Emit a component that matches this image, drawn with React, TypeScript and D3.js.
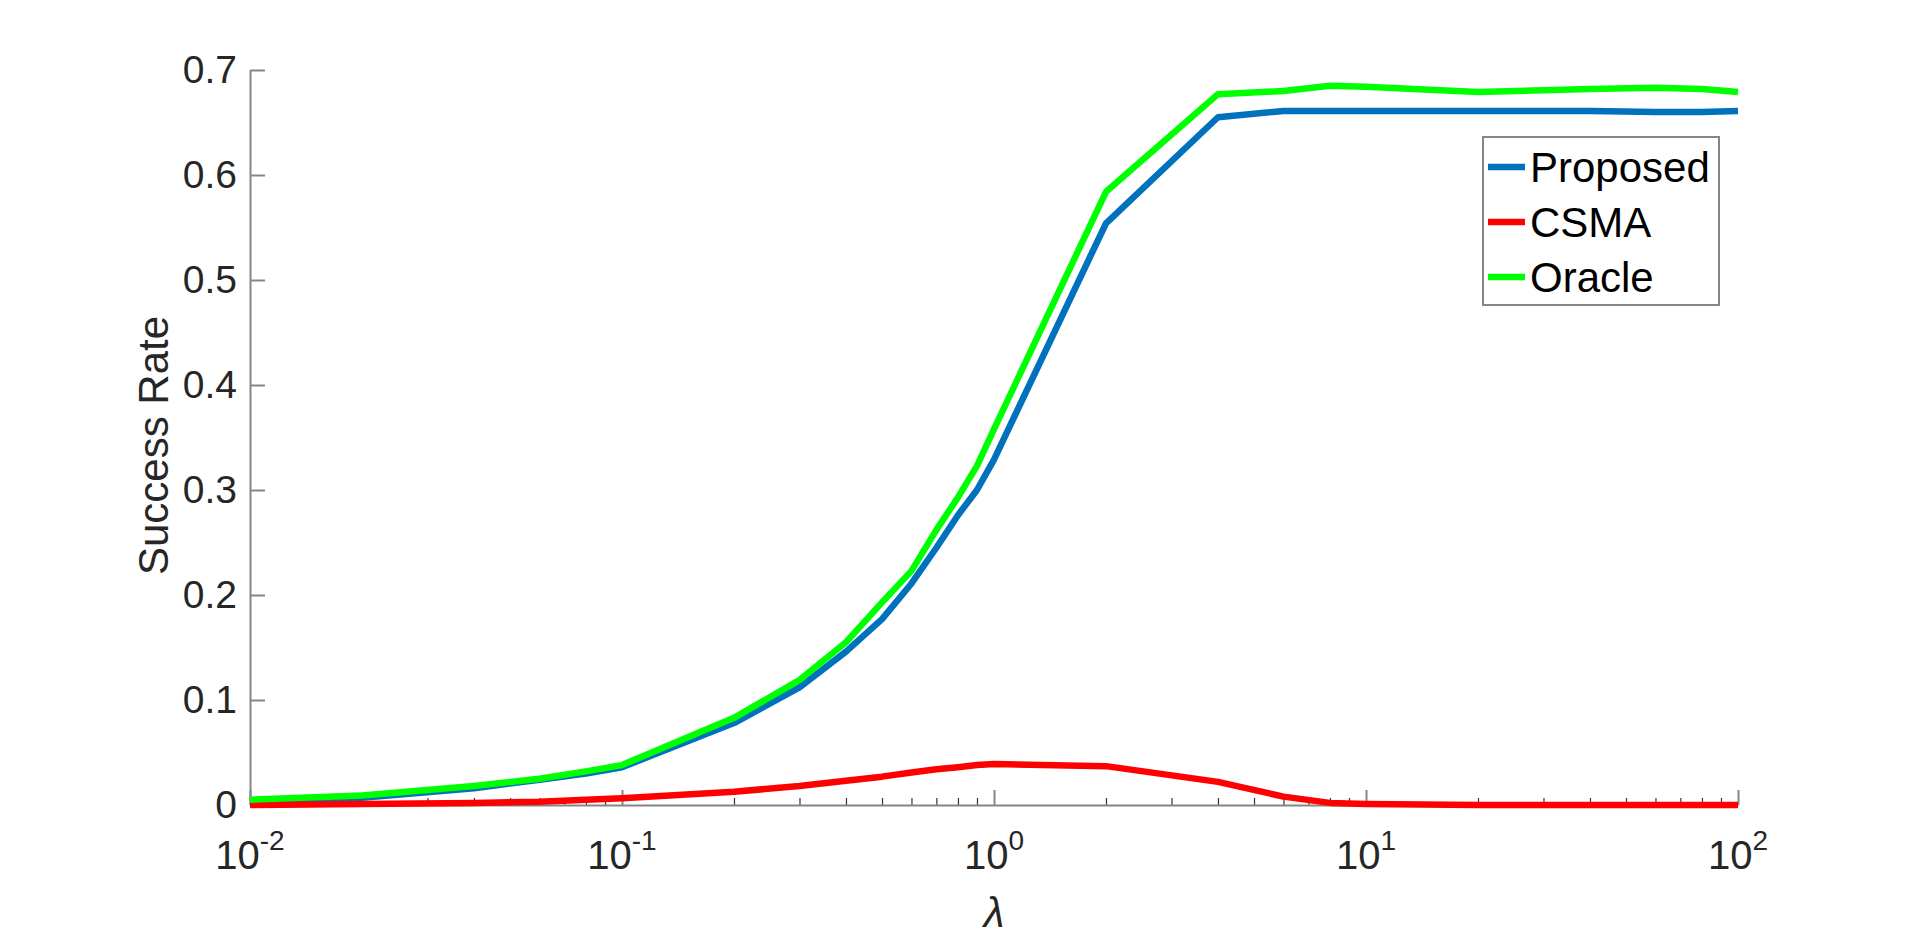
import React, { useEffect, useRef } from 'react'
import * as d3 from 'd3'

// lambda values (log axis)
const lambdas = [0.01, 0.02, 0.04, 0.06, 0.08, 0.1, 0.2, 0.3, 0.4, 0.5, 0.6, 0.7, 0.8, 0.9, 1, 2, 4, 6, 8, 10, 20, 40, 60, 80, 100]

const proposed = [0.003, 0.007, 0.016, 0.024, 0.030, 0.036, 0.078, 0.112, 0.146, 0.177, 0.211, 0.245, 0.276, 0.300, 0.329, 0.554, 0.655, 0.661, 0.661, 0.661, 0.661, 0.661, 0.660, 0.660, 0.661]
const csma = [0.000, 0.001, 0.002, 0.003, 0.005, 0.0065, 0.0127, 0.018, 0.023, 0.027, 0.031, 0.034, 0.036, 0.038, 0.039, 0.037, 0.022, 0.008, 0.002, 0.001, 0.000, 0.000, 0.000, 0.000, 0.000]
const oracle = [0.005, 0.009, 0.018, 0.025, 0.032, 0.038, 0.083, 0.119, 0.155, 0.193, 0.223, 0.262, 0.293, 0.323, 0.358, 0.584, 0.677, 0.680, 0.685, 0.684, 0.679, 0.682, 0.683, 0.682, 0.679]

const seriesNames = ['Proposed', 'CSMA', 'Oracle']
const seriesColors = ['#0072BD', '#FF0000', '#00FF00']

const yTicks = [0, 0.1, 0.2, 0.3, 0.4, 0.5, 0.6, 0.7]
const xMajor = [0.01, 0.1, 1, 10, 100]
const xExponents = ['-2', '-1', '0', '1', '2']

const W = 1920, H = 936
const left = 250, right = 1738, top = 70, bottom = 805
const axisColor = '#868686'
const textColor = '#262626'
const font = '"Liberation Sans", Arial, sans-serif'

export default function App() {
  const ref = useRef<SVGSVGElement>(null)

  useEffect(() => {
    const svg = d3.select(ref.current)
    svg.selectAll('*').remove()

    const x = d3.scaleLog().domain([0.01, 100]).range([left, right])
    const y = d3.scaleLinear().domain([0, 0.7]).range([bottom, top])

    // minor ticks on x
    const minors: number[] = []
    for (let e = -2; e < 2; e++) {
      for (let m = 2; m <= 9; m++) minors.push(m * Math.pow(10, e))
    }

    const xMinorAxis = svg.append('g')
      .attr('transform', `translate(0,${bottom})`)
      .call(d3.axisBottom(x).tickValues(minors).tickSize(-7).tickSizeOuter(0).tickFormat(() => ''))
    xMinorAxis.select('.domain').remove()
    xMinorAxis.selectAll('line').attr('stroke', '#333').attr('stroke-width', 1.2)

    const xAxis = svg.append('g')
      .attr('transform', `translate(0,${bottom})`)
      .call(d3.axisBottom(x).tickValues(xMajor).tickSize(-15).tickSizeOuter(0).tickFormat(() => ''))
    xAxis.select('.domain').attr('stroke', axisColor).attr('stroke-width', 2)
    xAxis.selectAll('line').attr('stroke', axisColor).attr('stroke-width', 2)

    const xl = svg.append('g')
      .attr('font-family', font)
      .attr('fill', textColor)
      .attr('text-anchor', 'middle')
      .selectAll('text')
      .data(xMajor)
      .join('text')
      .attr('x', d => x(d))
      .attr('y', 869)
      .attr('font-size', 40)
    xl.append('tspan').text('10')
    xl.append('tspan').attr('dy', -19).attr('font-size', 28).text((_, i) => xExponents[i])

    const yAxis = svg.append('g')
      .attr('transform', `translate(${left},0)`)
      .call(d3.axisLeft(y).tickValues(yTicks).tickSize(-15).tickSizeOuter(0).tickPadding(13)
        .tickFormat(d => d3.format('~g')(d as number)))
    yAxis.select('.domain').attr('stroke', axisColor).attr('stroke-width', 2)
    yAxis.selectAll('line').attr('stroke', axisColor).attr('stroke-width', 2)
    yAxis.selectAll('text')
      .attr('font-family', font)
      .attr('font-size', 39)
      .attr('fill', textColor)

    svg.append('text')
      .attr('transform', `translate(168,${(top + bottom) / 2 + 8}) rotate(-90)`)
      .attr('text-anchor', 'middle')
      .attr('font-family', font)
      .attr('font-size', 42)
      .attr('fill', textColor)
      .text('Success Rate')

    svg.append('text')
      .attr('x', x(1))
      .attr('y', 927)
      .attr('text-anchor', 'middle')
      .attr('font-family', font)
      .attr('font-style', 'italic')
      .attr('font-size', 42)
      .attr('fill', textColor)
      .text('λ')

    const line = d3.line<number>()
      .x((_, i) => x(lambdas[i]))
      .y(d => y(d))

    const allSeries = [proposed, csma, oracle]
    svg.append('g')
      .selectAll('path')
      .data(allSeries)
      .join('path')
      .attr('d', d => line(d))
      .attr('fill', 'none')
      .attr('stroke', (_, i) => seriesColors[i])
      .attr('stroke-width', 6.5)
      .attr('stroke-linejoin', 'round')

    // legend
    const lg = svg.append('g')
    lg.append('rect')
      .attr('x', 1483).attr('y', 137)
      .attr('width', 236).attr('height', 168)
      .attr('fill', 'white')
      .attr('stroke', axisColor)
      .attr('stroke-width', 2)
    const rows = lg.selectAll('g.row')
      .data(seriesNames)
      .join('g')
      .attr('class', 'row')
      .attr('transform', (_, i) => `translate(0,${167 + i * 55})`)
    rows.append('line')
      .attr('x1', 1488).attr('x2', 1525)
      .attr('stroke', (_, i) => seriesColors[i])
      .attr('stroke-width', 6.5)
    rows.append('text')
      .attr('x', 1530)
      .attr('dy', '0.35em')
      .attr('font-family', font)
      .attr('font-size', 42)
      .attr('fill', '#000')
      .text(d => d)
  }, [])

  return (
    <svg ref={ref} width={W} height={H}
      style={{ position: 'absolute', left: 0, top: 0, background: 'white', display: 'block' }} />
  )
}
